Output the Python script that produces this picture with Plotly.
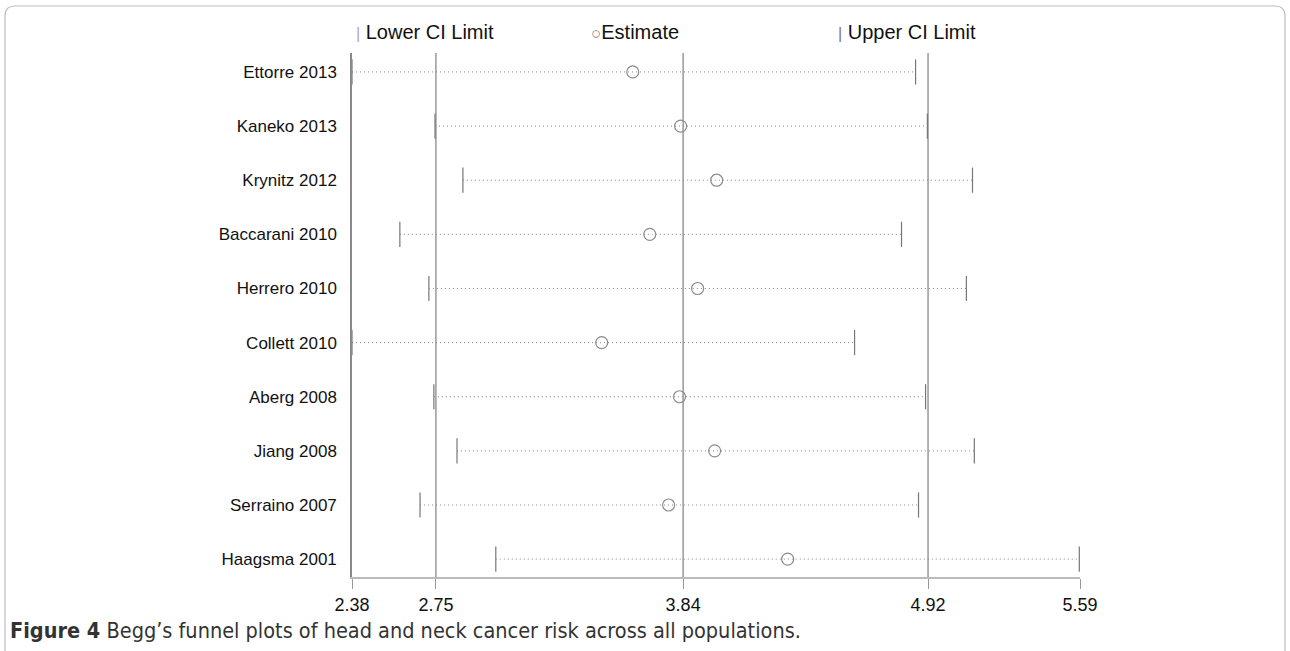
import plotly.graph_objects as go

studies = ["Ettorre 2013", "Kaneko 2013", "Krynitz 2012", "Baccarani 2010", "Herrero 2010",
           "Collett 2010", "Aberg 2008", "Jiang 2008", "Serraino 2007", "Haagsma 2001"]
lower = [2.38, 2.746, 2.869, 2.591, 2.719, 2.38, 2.741, 2.843, 2.680, 3.014]
estimate = [3.618, 3.829, 3.988, 3.693, 3.904, 3.481, 3.824, 3.979, 3.776, 4.301]
upper = [4.865, 4.917, 5.116, 4.803, 5.089, 4.596, 4.909, 5.124, 4.878, 5.587]
ref_lines = [2.75, 3.84, 4.92]
tick_vals = [2.38, 2.75, 3.84, 4.92, 5.59]
tick_text = ["2.38", "2.75", "3.84", "4.92", "5.59"]

GREY = "#8c8c8c"
fig = go.Figure()

# dotted CI lines
for s, lo, hi in zip(studies, lower, upper):
    fig.add_trace(go.Scatter(x=[lo, hi], y=[s, s], mode="lines",
                             line=dict(color="#8a8a8a", width=1, dash="1px,3px"),
                             hoverinfo="skip", showlegend=False))

fig.add_trace(go.Scatter(x=lower, y=studies, mode="markers", name="Lower CI Limit",
                         marker=dict(symbol="line-ns", size=18, line=dict(color="#777", width=1.2)),
                         showlegend=False))
fig.add_trace(go.Scatter(x=upper, y=studies, mode="markers", name="Upper CI Limit",
                         marker=dict(symbol="line-ns", size=18, line=dict(color="#777", width=1.2)),
                         showlegend=False))
fig.add_trace(go.Scatter(x=estimate, y=studies, mode="markers", name="Estimate",
                         marker=dict(symbol="circle-open", size=12, color=GREY,
                                     line=dict(color=GREY, width=1.2)),
                         showlegend=False))

shapes = []
for v in ref_lines:
    shapes.append(dict(type="line", xref="x", yref="paper", x0=v, x1=v, y0=0, y1=1,
                       line=dict(color="#999", width=1.5), layer="below"))

# outer rounded frame (paper coords relative to plot area 352..1080 x, 53..577 y)
def px(xp):
    return (xp - 352) / 728.0
def py(yp):
    return (577 - yp) / 524.0
r = 10
x0, x1, y0, y1 = 5, 1285, 6, 660
path = (f"M {px(x0)},{py(y1)} L {px(x0)},{py(y0 + r)} "
        f"Q {px(x0)},{py(y0)} {px(x0 + r)},{py(y0)} "
        f"L {px(x1 - r)},{py(y0)} Q {px(x1)},{py(y0)} {px(x1)},{py(y0 + r)} L {px(x1)},{py(y1)}")
shapes.append(dict(type="path", xref="paper", yref="paper", path=path,
                   line=dict(color="#bdbdbd", width=1.2)))

LEG_FONT = dict(family="Liberation Sans, Arial", size=20, color="#111")
annotations = [
    dict(xref="paper", yref="paper", x=px(354), y=py(32), xanchor="left", yanchor="middle",
         text="<span style='color:#aaa;font-size:16px'>|</span> Lower CI Limit", showarrow=False,
         font=LEG_FONT),
    dict(xref="paper", yref="paper", x=px(589), y=py(32), xanchor="left", yanchor="middle",
         text="<span style='color:#888;font-size:17px'>○</span>Estimate", showarrow=False,
         font=LEG_FONT),
    dict(xref="paper", yref="paper", x=px(836), y=py(32), xanchor="left", yanchor="middle",
         text="<span style='color:#777;font-size:16px'>|</span> Upper CI Limit", showarrow=False,
         font=LEG_FONT),
    dict(xref="paper", yref="paper", x=px(8), y=py(630), xanchor="left", yanchor="middle",
         text="<b>Figure 4</b> Begg’s funnel plots of head and neck cancer risk across all populations.",
         showarrow=False,
         font=dict(family="DejaVu Sans Condensed, Open Sans, Arial", size=21.5, color="#333")),
]

fig.update_layout(
    width=1290, height=651,
    margin=dict(l=352, r=210, t=53, b=74),
    paper_bgcolor="white", plot_bgcolor="white",
    shapes=shapes, annotations=annotations,
    xaxis=dict(range=[2.38, 5.59], tickvals=tick_vals, ticktext=tick_text,
               showgrid=False, zeroline=False, showline=True, linecolor="#bbb", linewidth=2,
               ticks="outside", ticklen=10, tickcolor="#999", tickwidth=1,
               tickfont=dict(family="Liberation Sans Narrow, Liberation Sans, Arial", size=18, color="#111")),
    yaxis=dict(type="category", categoryorder="array", categoryarray=studies,
               range=[9.33, -0.35], showgrid=False, zeroline=False,
               showline=True, linecolor="#888", linewidth=1.5, ticks="", ticklen=0,
               ticklabelstandoff=10,
               tickfont=dict(family="Liberation Sans, Arial", size=17, color="#111")),
    showlegend=False,
)

fig.write_html("out.html", config={"displayModeBar": False},
               post_script="document.body.style.margin='0';document.body.style.overflow='hidden';")
